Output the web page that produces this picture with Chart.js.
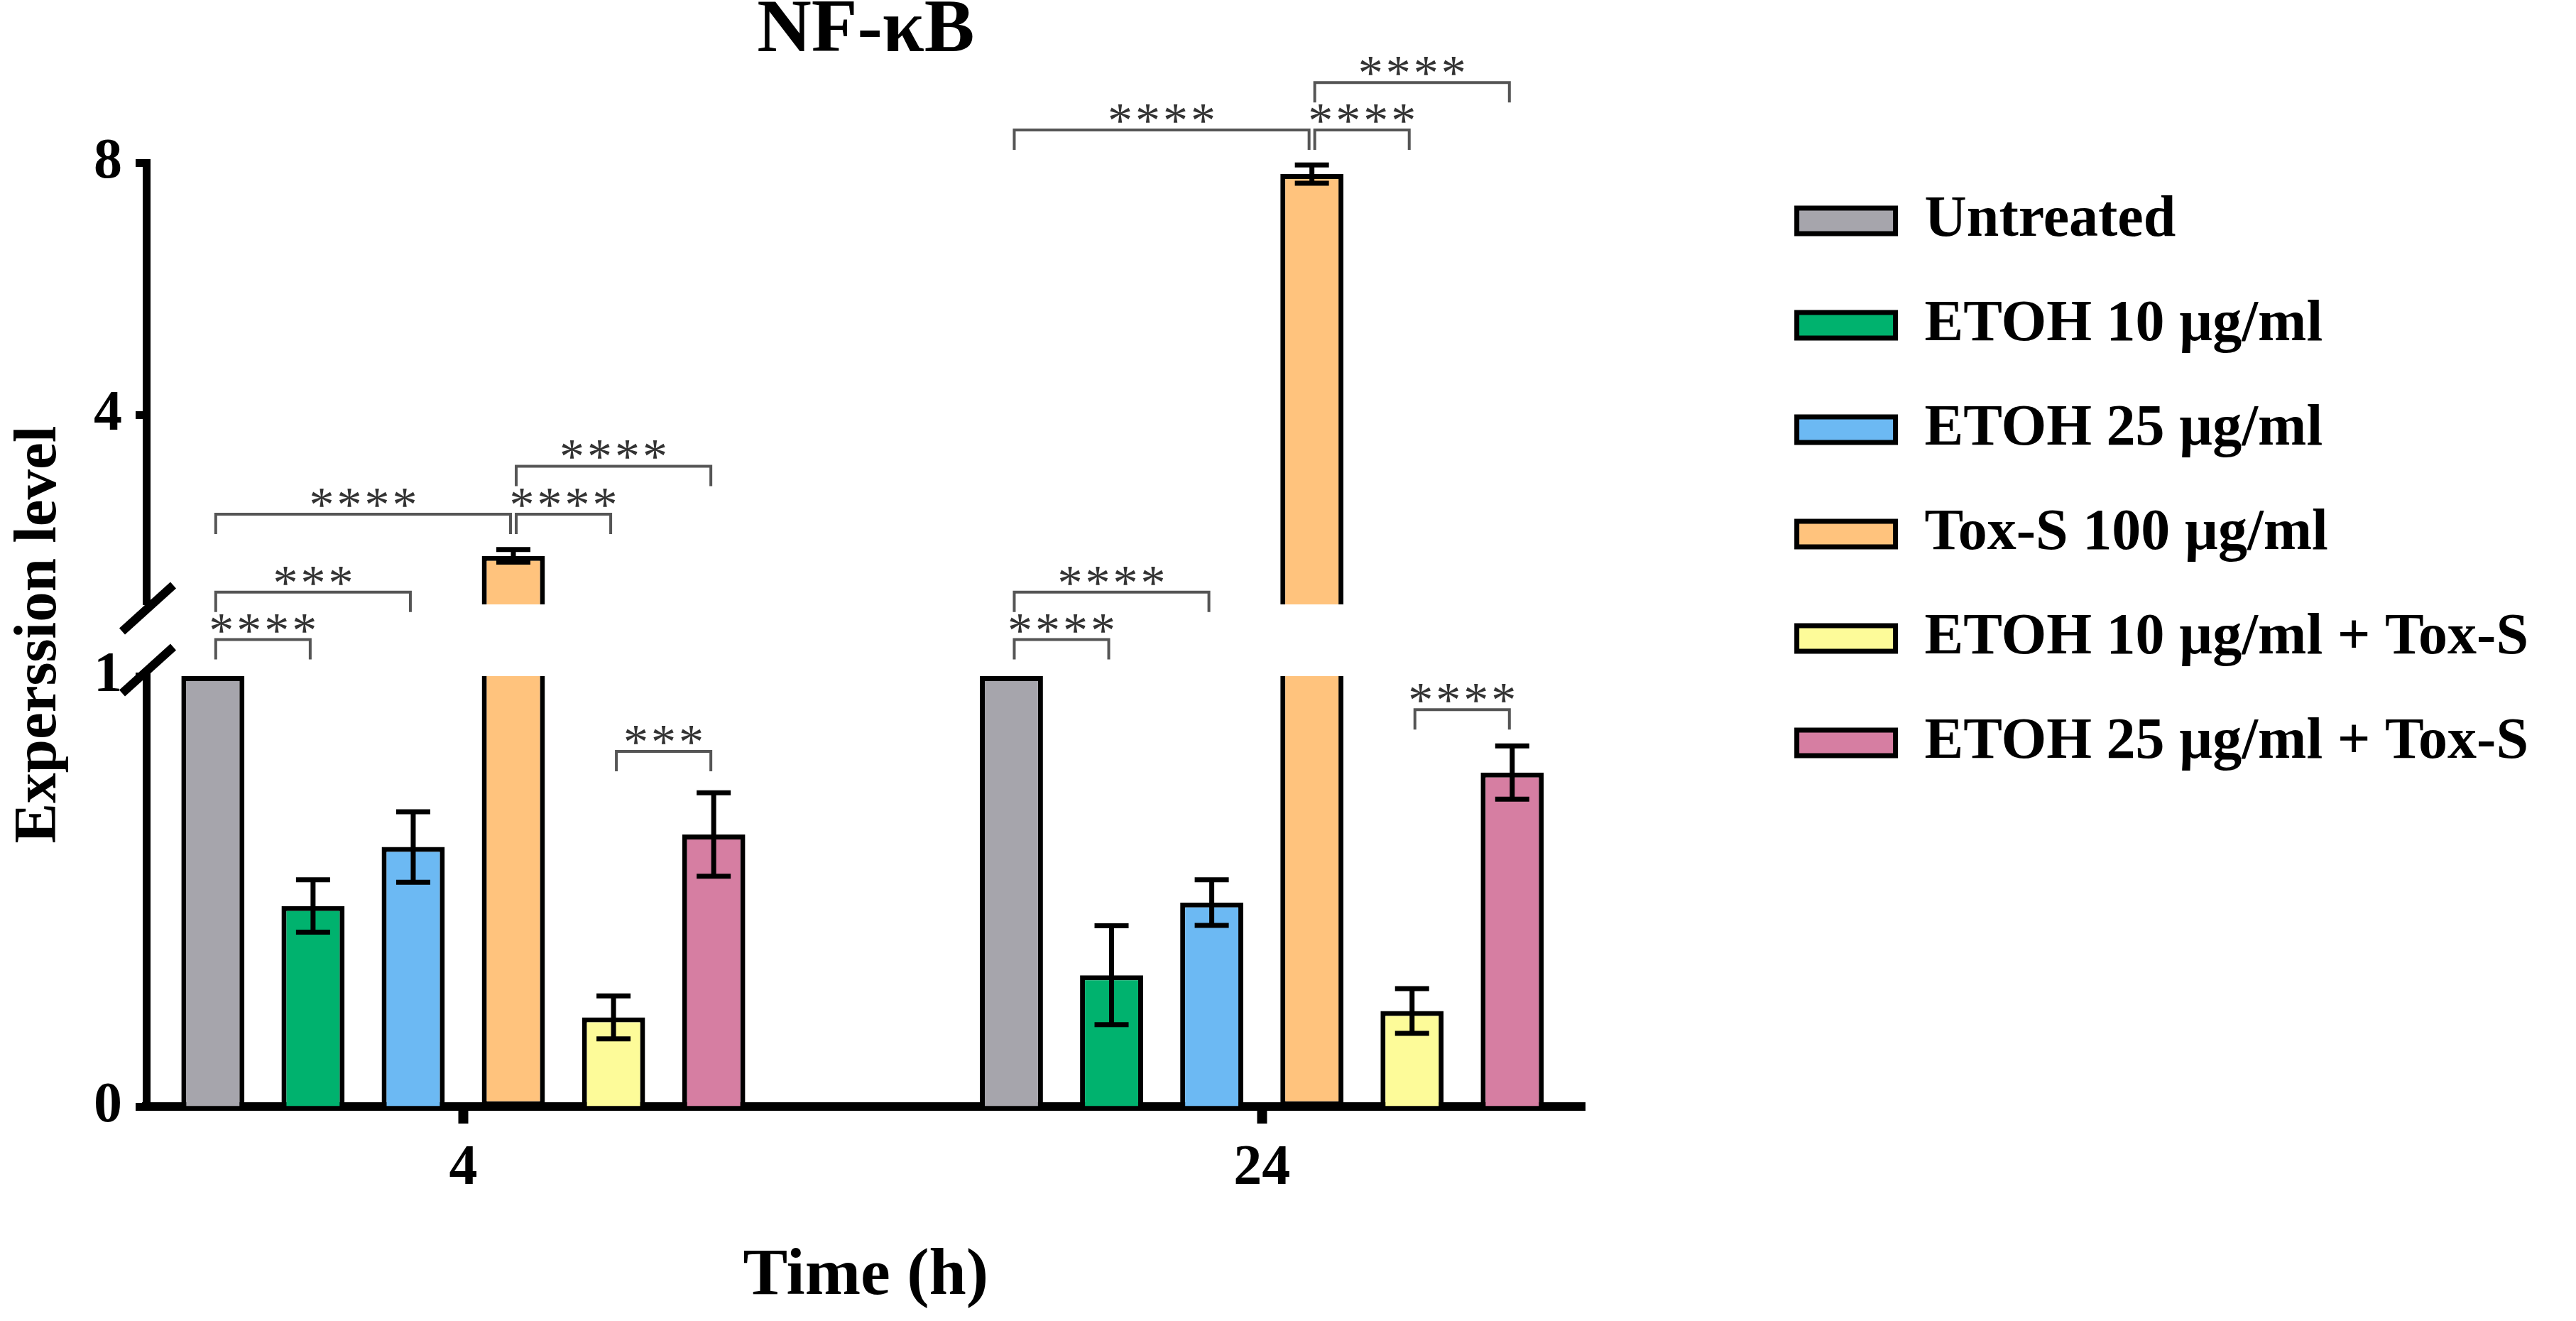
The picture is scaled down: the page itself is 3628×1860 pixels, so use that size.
<!DOCTYPE html>
<html>
<head>
<meta charset="utf-8">
<title>NF-κB</title>
<script src="https://cdn.jsdelivr.net/npm/chart.js@4.4.1/dist/chart.umd.min.js"></script>
<style>
  html, body { margin: 0; padding: 0; background: #fff; }
  #wrap { width: 3628px; height: 1860px; position: relative; }
</style>
</head>
<body>
<div id="wrap"><canvas id="chart"></canvas></div>
<script>
const serif = "'Liberation Serif', 'Times New Roman', serif";

// categories (time points) and series
const timeLabels = ['4', '24'];
const seriesNames = ['Untreated', 'ETOH 10 µg/ml', 'ETOH 25 µg/ml', 'Tox-S 100 µg/ml', 'ETOH 10 µg/ml + Tox-S', 'ETOH 25 µg/ml + Tox-S'];
const seriesColors = ['#a6a5ac', '#00b26e', '#6cb9f3', '#ffc37d', '#fdfb99', '#d67ea2'];

// mean expression level per time point
const untreated = [1.0, 1.0];
const etoh10 = [0.466, 0.305];
const etoh25 = [0.603, 0.474];
const toxS = [1.77, 7.82];
const etoh10Tox = [0.207, 0.222];
const etoh25Tox = [0.632, 0.776];

// error (± SD)
const untreatedErr = [0, 0];
const etoh10Err = [0.061, 0.115];
const etoh25Err = [0.082, 0.053];
const toxSErr = [0.10, 0.145];
const etoh10ToxErr = [0.05, 0.052];
const etoh25ToxErr = [0.097, 0.062];

// broken y axis: lower part 0-1, upper part 1-8
const lowerRange = [0, 1];
const upperRange = [1, 8];
const lowerTicks = [0, 1];
const upperTicks = [4, 8];

// significance: [time index, from series, to series, axis, level, stars]
const brackets = [
  [0, 0, 1, 'yLow', 1.085, '****'],
  [0, 0, 2, 'yUp', 1.195, '***'],
  [0, 0, 3, 'yUp', 2.43, '****'],
  [0, 3, 4, 'yUp', 2.43, '****'],
  [0, 3, 5, 'yUp', 3.19, '****'],
  [0, 4, 5, 'yLow', 0.825, '***'],
  [1, 0, 1, 'yLow', 1.085, '****'],
  [1, 0, 2, 'yUp', 1.195, '****'],
  [1, 0, 3, 'yUp', 8.52, '****'],
  [1, 3, 4, 'yUp', 8.52, '****'],
  [1, 3, 5, 'yUp', 9.27, '****'],
  [1, 4, 5, 'yLow', 0.922, '****']
];

const seriesValues = [untreated, etoh10, etoh25, toxS, etoh10Tox, etoh25Tox];
const seriesErrors = [untreatedErr, etoh10Err, etoh25Err, toxSErr, etoh10ToxErr, etoh25ToxErr];

const lowerSets = seriesValues.map((vals, s) => ({
    label: seriesNames[s],
    data: vals.map((v, i) => ({ x: i, y: [lowerRange[0], Math.min(v, lowerRange[1])] })),
    backgroundColor: seriesColors[s],
    borderColor: '#000',
    borderWidth: 7,
    borderSkipped: (ctx) => (vals[ctx.dataIndex] > lowerRange[1] ? 'top' : 'start'),
    yAxisID: 'yLow',
    stack: 's' + s
}));

const upperSets = seriesValues.map((vals, s) => ({
    label: seriesNames[s],
    data: vals.flatMap((v, i) => (v > upperRange[0] ? [{ x: i, y: [upperRange[0], v] }] : [])),
    backgroundColor: seriesColors[s],
    borderColor: '#000',
    borderWidth: 7,
    borderSkipped: 'bottom',
    yAxisID: 'yUp',
    stack: 's' + s
}));

const errorBarPlugin = {
    id: 'errorBars',
    afterDatasetsDraw(chart) {
        const { ctx } = chart;
        ctx.save();
        ctx.strokeStyle = '#000';
        ctx.lineWidth = 7;
        seriesValues.forEach((vals, s) => {
            const meta = chart.getDatasetMeta(s);
            vals.forEach((v, i) => {
                const err = seriesErrors[s][i];
                if (!err) return;
                const scale = v > lowerRange[1] ? chart.scales.yUp : chart.scales.yLow;
                const x = meta.data[i].x;
                const top = scale.getPixelForValue(v + err);
                const bottom = scale.getPixelForValue(v - err);
                ctx.beginPath();
                ctx.moveTo(x, top); ctx.lineTo(x, bottom);
                ctx.moveTo(x - 24, top); ctx.lineTo(x + 24, top);
                ctx.moveTo(x - 24, bottom); ctx.lineTo(x + 24, bottom);
                ctx.stroke();
            });
        });
        ctx.restore();
    }
};

const bracketPlugin = {
    id: 'sigBrackets',
    afterDatasetsDraw(chart) {
        const { ctx } = chart;
        ctx.save();
        ctx.strokeStyle = '#555';
        ctx.lineWidth = 4;
        ctx.fillStyle = '#333';
        ctx.font = `70px ${serif}`;
        ctx.textAlign = 'center';
        ctx.textBaseline = 'alphabetic';
        if ('letterSpacing' in ctx) ctx.letterSpacing = '4px';
        brackets.forEach(([group, from, to, axisId, level, stars]) => {
            const x1 = chart.getDatasetMeta(from).data[group].x + 4;
            const x2 = chart.getDatasetMeta(to).data[group].x - 4;
            const y = chart.scales[axisId].getPixelForValue(level);
            ctx.beginPath();
            ctx.moveTo(x1, y + 28); ctx.lineTo(x1, y); ctx.lineTo(x2, y); ctx.lineTo(x2, y + 28);
            ctx.stroke();
            ctx.fillText(stars, (x1 + x2) / 2 + 2, y + 10);
        });
        ctx.restore();
    }
};

const axisBreakPlugin = {
    id: 'axisBreak',
    afterDraw(chart) {
        const { ctx, chartArea } = chart;
        const x = chartArea.left;
        const marks = [chart.scales.yUp.bottom + 6, chart.scales.yLow.top - 8];
        ctx.save();
        ctx.strokeStyle = '#000';
        ctx.lineWidth = 12;
        marks.forEach(y => {
            ctx.beginPath();
            ctx.moveTo(x - 34, y + 32);
            ctx.lineTo(x + 38, y - 33);
            ctx.stroke();
        });
        ctx.restore();
    }
};

const tickFont = { family: serif, size: 80, weight: 'bold' };
const hidden = { grid: { display: false }, border: { display: false }, ticks: { display: false } };

new Chart(document.getElementById('chart'), {
    type: 'bar',
    data: { datasets: [...lowerSets, ...upperSets] },
    plugins: [errorBarPlugin, bracketPlugin, axisBreakPlugin],
    options: {
        responsive: true,
        maintainAspectRatio: false,
        devicePixelRatio: 1,
        animation: false,
        layout: { padding: { top: 0, right: 57, bottom: 0, left: 0 } },
        datasets: { bar: { categoryPercentage: 0.7526, barPercentage: 0.63 } },
        plugins: {
            tooltip: { enabled: false },
            title: {
                display: true,
                text: 'NF-κB',
                fullSize: false,
                color: '#000',
                font: { family: serif, size: 106, weight: 'bold', lineHeight: 0.85 },
                padding: { top: 0, bottom: 139 }
            },
            legend: {
                position: 'right',
                align: 'start',
                maxWidth: 1400,
                title: { display: true, text: '', padding: { top: 195, bottom: 0 }, font: { size: 10, lineHeight: 1 } },
                labels: {
                    boxWidth: 139,
                    boxHeight: 36,
                    padding: 65,
                    color: '#000',
                    font: { family: serif, size: 82, weight: 'bold' },
                    filter: (item) => item.datasetIndex < seriesNames.length
                }
            }
        },
        scales: {
            x: {
                type: 'linear',
                min: -0.397,
                max: 1.405,
                bounds: 'data',
                offset: false,
                afterBuildTicks: (s) => { s.ticks = timeLabels.map((_, i) => ({ value: i })); },
                ticks: { color: '#000', font: tickFont, padding: 16, callback: (v, i) => timeLabels[i] },
                grid: { drawOnChartArea: false, offset: false, tickLength: 24, tickWidth: 14, tickColor: '#000' },
                border: { color: '#000', width: 12 },
                title: {
                    display: true,
                    text: 'Time (h)',
                    color: '#000',
                    font: { family: serif, size: 94, weight: 'bold' },
                    padding: { top: 0, bottom: 6 }
                },
                afterFit: (s) => { s.height = 302; }
            },
            yTitle: {
                type: 'linear',
                position: 'left',
                weight: 1,
                ...hidden,
                title: {
                    display: true,
                    text: 'Experssion level',
                    color: '#000',
                    font: { family: serif, size: 85, weight: 'bold' },
                    padding: { top: 5, bottom: 0 }
                },
                afterFit: (s) => { s.width = 100; }
            },
            yLow: {
                type: 'linear',
                position: 'left',
                stack: 'expr',
                stackWeight: 606,
                min: lowerRange[0],
                max: lowerRange[1],
                bounds: 'data',
                stacked: false,
                afterBuildTicks: (s) => { s.ticks = lowerTicks.map(v => ({ value: v })); },
                ticks: { color: '#000', font: tickFont, padding: 19 },
                grid: { drawOnChartArea: false, tickLength: 15, tickWidth: 11, tickColor: '#000' },
                border: { color: '#000', width: 11 },
                afterFit: (s) => { s.width = 106; }
            },
            yGap: {
                type: 'linear',
                position: 'left',
                stack: 'expr',
                stackWeight: 101,
                ...hidden,
                afterFit: (s) => { s.width = 106; }
            },
            yUp: {
                type: 'linear',
                position: 'left',
                stack: 'expr',
                stackWeight: 622,
                min: upperRange[0],
                max: upperRange[1],
                bounds: 'data',
                stacked: false,
                afterBuildTicks: (s) => { s.ticks = upperTicks.map(v => ({ value: v })); },
                ticks: { color: '#000', font: tickFont, padding: 19 },
                grid: { drawOnChartArea: false, tickLength: 15, tickWidth: 11, tickColor: '#000' },
                border: { color: '#000', width: 11 },
                afterFit: (s) => { s.width = 106; }
            },
            ySpace: {
                type: 'linear',
                position: 'right',
                ...hidden,
                afterFit: (s) => { s.width = 233; }
            }
        }
    }
});
</script>
</body>
</html>
